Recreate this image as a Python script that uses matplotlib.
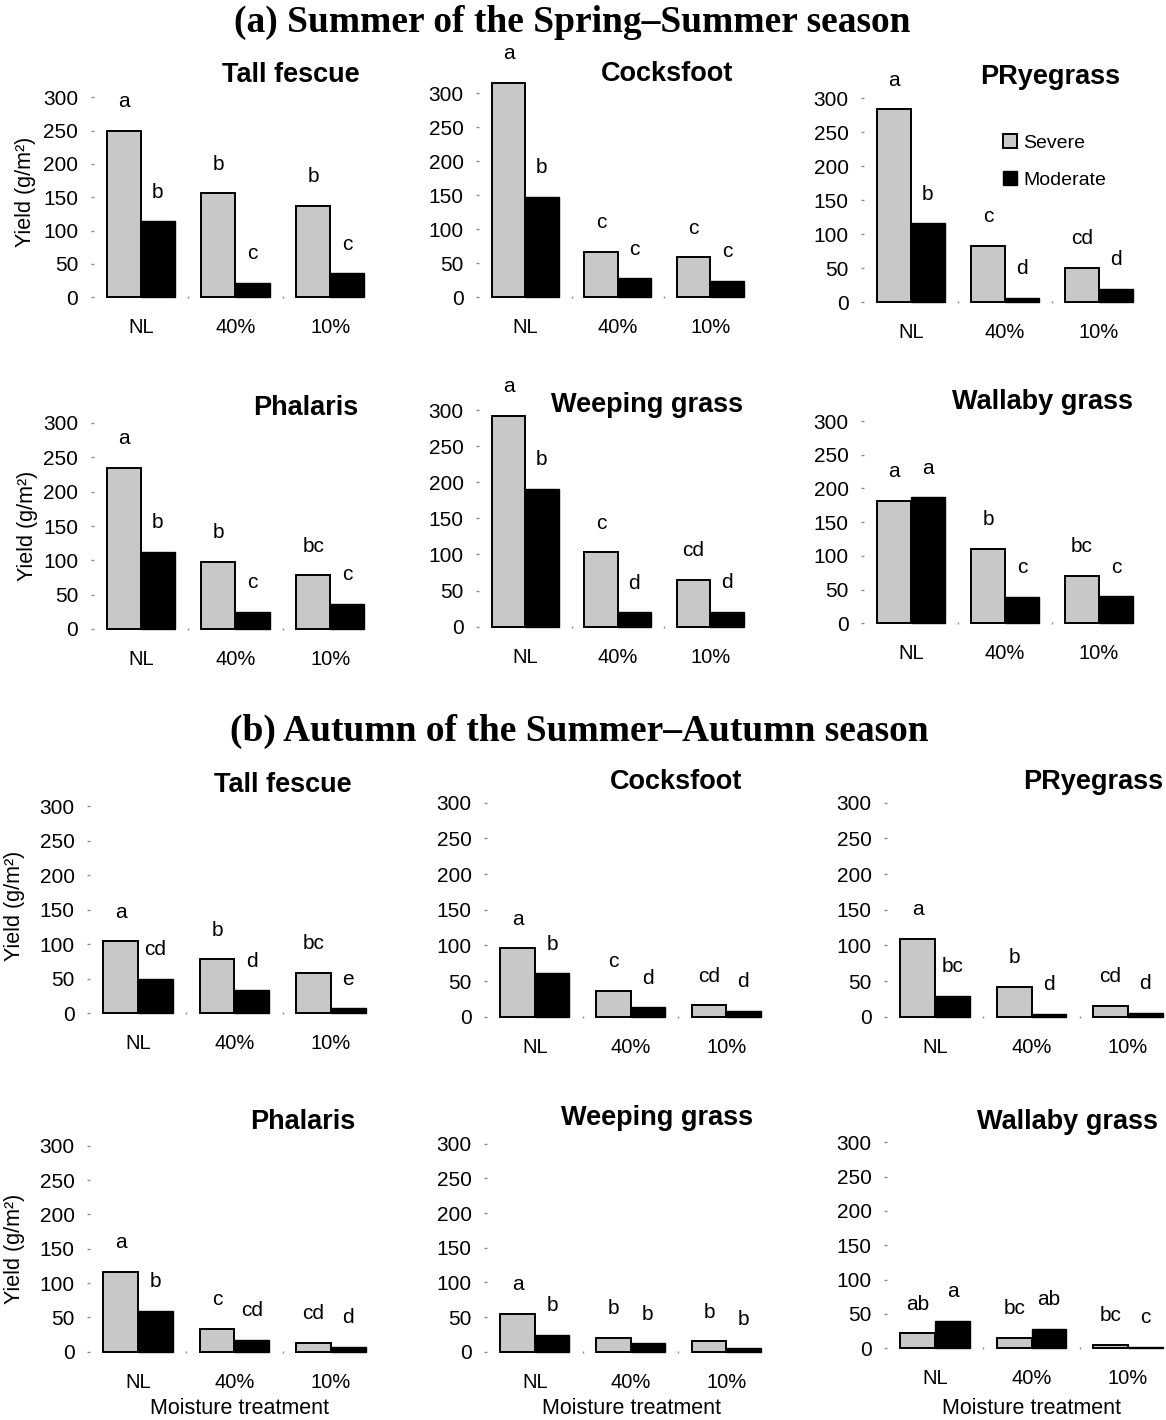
import matplotlib.pyplot as plt
import numpy as np

W, H = 1166, 1420

species = ['Tall fescue', 'Cocksfoot', 'PRyegrass', 'Phalaris', 'Weeping grass', 'Wallaby grass']
treatments = ['NL', '40%', '10%']

# (a) Summer of the Spring-Summer season, yield g/m2
summer_severe = [[250, 156, 137], [315, 67, 59], [284, 83, 51],
                 [235, 98, 78], [292, 103, 65], [182, 110, 70]]
summer_moderate = [[114, 22, 36], [148, 28, 24], [116, 7, 20],
                   [112, 25, 37], [191, 20, 21], [187, 39, 40]]
summer_sev_letters = [['a', 'b', 'b'], ['a', 'c', 'c'], ['a', 'c', 'cd'],
                      ['a', 'b', 'bc'], ['a', 'c', 'cd'], ['a', 'b', 'bc']]
summer_mod_letters = [['b', 'c', 'c'], ['b', 'c', 'c'], ['b', 'd', 'd'],
                      ['b', 'c', 'c'], ['b', 'd', 'd'], ['a', 'c', 'c']]

# (b) Autumn of the Summer-Autumn season
autumn_severe = [[104, 78, 59], [96, 36, 16], [109, 42, 15],
                 [116, 33, 13], [55, 20, 15], [22, 15, 5]]
autumn_moderate = [[50, 33, 7], [61, 13, 8], [29, 4, 5],
                   [60, 17, 7], [24, 12, 5], [40, 28, 2.5]]
autumn_sev_letters = [['a', 'b', 'bc'], ['a', 'c', 'cd'], ['a', 'b', 'cd'],
                      ['a', 'c', 'cd'], ['a', 'b', 'b'], ['ab', 'bc', 'bc']]
autumn_mod_letters = [['cd', 'd', 'e'], ['b', 'd', 'd'], ['bc', 'd', 'd'],
                      ['b', 'cd', 'd'], ['b', 'b', 'b'], ['a', 'ab', 'c']]

# panel boxes in pixels: x left, x right, y of zero, y of 300
boxes_a = [(93.5, 377.5, 297.3, 97.3), (479, 756.5, 297.3, 93.3), (864, 1146, 302.3, 98.3),
           (93.5, 377.5, 629, 423), (479, 756.5, 626.7, 410), (864, 1146, 623.3, 421)]
boxes_b = [(90, 379, 1013.3, 806), (487, 774, 1016.7, 802.7), (887, 1176, 1016.7, 802.7),
           (90, 379, 1351.7, 1145.7), (487, 774, 1351.7, 1143.7), (887, 1176, 1348.3, 1142.3)]
# panel title anchor (right edge, centre y)
titles_a = [(360, 75), (733, 74), (1120, 77), (358, 408), (743, 405), (1133, 402)]
titles_b = [(352, 785), (742, 782), (1163, 782), (355, 1122), (753, 1118), (1158, 1122)]

plt.rcParams['font.family'] = ['Liberation Sans', 'DejaVu Sans']
SEV_COLOR = '#c8c8c8'
fig = plt.figure(figsize=(W / 100, H / 100), dpi=100)


def fx(x):
    return x / W


def fy(y):
    return 1 - y / H


def draw_panel(box, name, tpos, sev, mod, sev_lab, mod_lab):
    x0, x1, ybot, ytop = box
    ax = fig.add_axes([fx(x0), fy(ybot), fx(x1 - x0), (ybot - ytop) / H])
    x = np.arange(len(treatments))
    w = 0.36
    ax.bar(x - w / 2, sev, w, color=SEV_COLOR, edgecolor='black', linewidth=1.4,
           clip_on=False, label='Severe', zorder=3)
    ax.bar(x + w / 2, mod, w, color='black', edgecolor='black', linewidth=1.0,
           clip_on=False, label='Moderate', zorder=3)
    for xi, v, t in zip(x - w / 2, sev, sev_lab):
        ax.annotate(t, (xi, v), xytext=(0, 21), textcoords='offset points',
                    ha='center', va='center', fontsize=15, annotation_clip=False)
    for xi, v, t in zip(x + w / 2, mod, mod_lab):
        ax.annotate(t, (xi, v), xytext=(0, 21), textcoords='offset points',
                    ha='center', va='center', fontsize=15, annotation_clip=False)
    ax.set_xlim(-0.5, 2.5)
    ax.set_ylim(0, 300)
    ax.set_yticks(range(0, 301, 50))
    ax.set_xticks(x)
    ax.set_xticklabels(treatments)
    ax.set_xticks([0.5, 1.5], minor=True)
    for s in ax.spines.values():
        s.set_visible(False)
    ax.tick_params(axis='y', length=2, width=1, color='0.55', pad=9, labelsize=15)
    ax.tick_params(axis='x', which='major', length=0, pad=15, labelsize=14.5)
    ax.tick_params(axis='x', which='minor', length=2, width=1, color='0.55', direction='inout')
    fig.text(fx(tpos[0]), fy(tpos[1]), name, ha='right', va='center',
             fontsize=19.5, fontweight='bold')
    return ax


axes_a = []
for i, name in enumerate(species):
    axes_a.append(draw_panel(boxes_a[i], name, titles_a[i], summer_severe[i], summer_moderate[i],
                             summer_sev_letters[i], summer_mod_letters[i]))
axes_b = []
for i, name in enumerate(species):
    axes_b.append(draw_panel(boxes_b[i], name, titles_b[i], autumn_severe[i], autumn_moderate[i],
                             autumn_sev_letters[i], autumn_mod_letters[i]))

# legend inside the PRyegrass panel of (a)
axes_a[2].legend(loc='upper left', bbox_to_anchor=(fx(995), fy(126)), bbox_transform=fig.transFigure,
                 frameon=False, fontsize=14, handlelength=0.75, handleheight=0.75,
                 handletextpad=0.3, labelspacing=1.0, borderaxespad=0)

# y labels on the first column
for xc, yc in [(25, 192), (28, 526), (15, 906), (15, 1249)]:
    fig.text(fx(xc), fy(yc), 'Yield (g/m²)', rotation=90, ha='center', va='center', fontsize=15.5)

# x labels under the bottom row
for xc in [240, 632, 1031]:
    fig.text(fx(xc), fy(1408), 'Moisture treatment', ha='center', va='center', fontsize=15.5)

fig.text(fx(572), fy(22), '(a) Summer of the Spring\u2013Summer season', ha='center', va='center',
         fontsize=27, fontweight='bold', family=['Liberation Serif', 'DejaVu Serif'])
fig.text(fx(579), fy(731), '(b) Autumn of the Summer\u2013Autumn season', ha='center', va='center',
         fontsize=27, fontweight='bold', family=['Liberation Serif', 'DejaVu Serif'])

fig.savefig('out.png', dpi=100)
